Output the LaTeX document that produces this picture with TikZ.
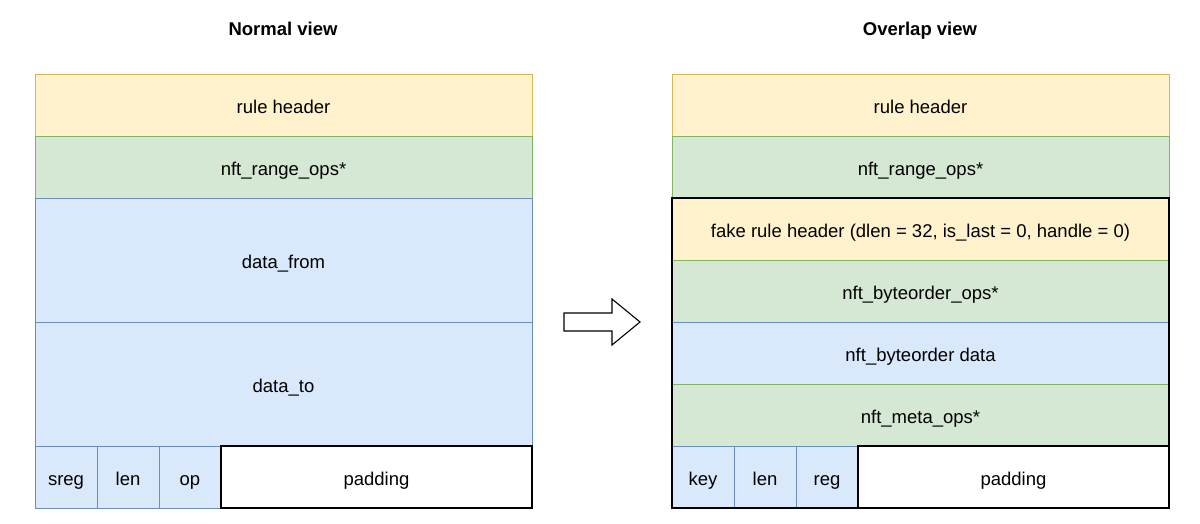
\documentclass[tikz,border=0pt]{standalone}
\usepackage{fontspec}
\setmainfont{Liberation Sans}
\definecolor{yfill}{HTML}{FFF2CC}\definecolor{ydraw}{HTML}{D6B656}
\definecolor{gfill}{HTML}{D5E8D4}\definecolor{gdraw}{HTML}{82B366}
\definecolor{bfill}{HTML}{DAE8FC}\definecolor{bdraw}{HTML}{6C8EBF}
\begin{document}
\begin{tikzpicture}[x=1pt,y=-1pt,
  txt/.style={font=\fontsize{18.5}{22}\selectfont},
  ybox/.style={draw=ydraw,fill=yfill,line width=0.9pt},
  gbox/.style={draw=gdraw,fill=gfill,line width=0.9pt},
  bbox/.style={draw=bdraw,fill=bfill,line width=0.9pt},
  wbox/.style={draw=black,fill=white,line width=1.1pt},
  lbl/.style={txt,anchor=base,inner sep=0pt,yshift=-8.5pt},
  ttl/.style={font=\fontsize{18.5}{22}\selectfont\bfseries,inner sep=0pt,anchor=base,yshift=-7.5pt}]
\useasboundingbox (0,0) rectangle (1200,524);
\newcommand{\cell}[6]{%
  \path[#1] (#3,#4) rectangle (#5,#6);
  \coordinate (#2) at ({(#3+#5)/2},{(#4+#6)/2});}
\node[ttl] (t1) at (283,28) {Normal view};
\node[ttl] (t2) at (920,28) {Overlap view};
% left
\cell{ybox}{lrh}{35}{74}{532}{136}
\cell{gbox}{lnr}{35}{136}{532}{198}
\cell{bbox}{ldf}{35}{198}{532}{322}
\cell{bbox}{ldt}{35}{322}{532}{446}
\cell{bbox}{ls}{35}{446}{97}{508}
\cell{bbox}{ll}{97}{446}{159}{508}
\cell{bbox}{lo}{159}{446}{221}{508}
\cell{wbox}{lp}{221}{446}{532}{508}
\node[lbl] at (lrh) {rule header};
\node[lbl] at (lnr) {nft\_range\_ops*};
\node[lbl] at (ldf) {data\_from};
\node[lbl] at (ldt) {data\_to};
\node[lbl] at (ls) {sreg};
\node[lbl] at (ll) {len};
\node[lbl] at (lo) {op};
\node[lbl] at (lp) {padding};
% right
\cell{ybox}{rrh}{672}{74}{1169}{136}
\cell{gbox}{rnr}{672}{136}{1169}{198}
\cell{ybox}{rfh}{672}{198}{1169}{260}
\cell{gbox}{rbo}{672}{260}{1169}{322}
\cell{bbox}{rbd}{672}{322}{1169}{384}
\cell{gbox}{rmo}{672}{384}{1169}{446}
\cell{bbox}{rk}{672}{446}{734}{508}
\cell{bbox}{rl}{734}{446}{796}{508}
\cell{bbox}{rr}{796}{446}{858}{508}
\cell{wbox}{rp}{858}{446}{1169}{508}
\draw[line width=2.8pt] (672,198) rectangle (1169,508);
\node[lbl] at (rrh) {rule header};
\node[lbl] at (rnr) {nft\_range\_ops*};
\node[lbl] at (rfh) {fake rule header (dlen = 32, is\_last = 0, handle = 0)};
\node[lbl] at (rbo) {nft\_byteorder\_ops*};
\node[lbl] at (rbd) {nft\_byteorder data};
\node[lbl] at (rmo) {nft\_meta\_ops*};
\node[lbl] at (rk) {key};
\node[lbl] at (rl) {len};
\node[lbl] at (rr) {reg};
\node[lbl] at (rp) {padding};
% arrow
\draw[line width=1.1pt,fill=white,line join=miter]
  (564,313) -- (612,313) -- (612,299) -- (640,322) -- (612,345) -- (612,331) -- (564,331) -- cycle;
\end{tikzpicture}
\end{document}
